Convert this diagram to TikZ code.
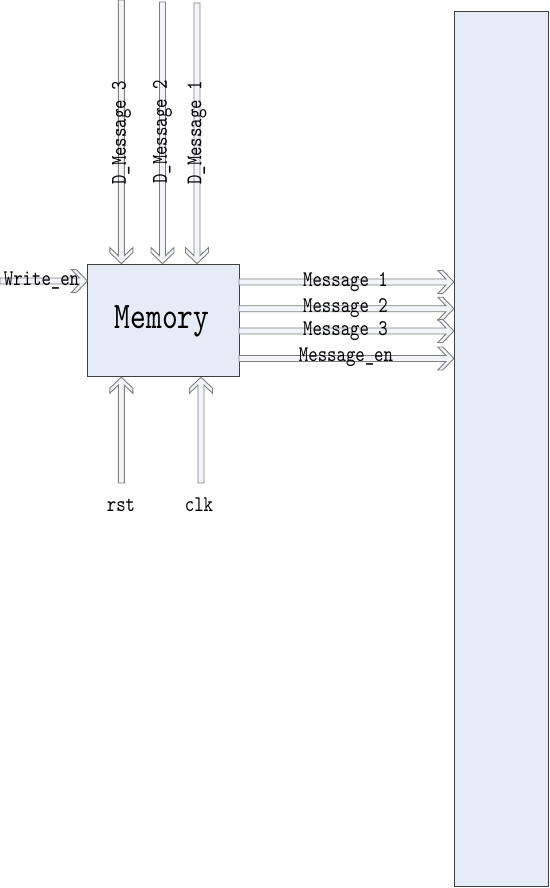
\documentclass[tikz,border=0pt]{standalone}
\usepackage{fontspec}
\usetikzlibrary{calc}
\newfontfamily\lblfont[FakeStretch=0.8]{lmmono10-regular.otf}
\definecolor{boxfill}{HTML}{E6ECF7}
\definecolor{boxline}{HTML}{404040}
\definecolor{arrline}{HTML}{7F7F7F}
\definecolor{arrfill}{HTML}{F2F4FA}
\tikzset{
  blockarrow/.style={draw=arrline, fill=arrfill, line width=0.9pt, line join=miter,
    to path={let \p1=(\tikztostart), \p2=(\tikztotarget),
      \n2={atan2(\y2-\y1,\x2-\x1)} in
      ($(\p1)+(\n2+90:3pt)$) -- ($(\p2)+(\n2:-7.9pt)+(\n2+90:3pt)$)
      -- ($(\p2)+(\n2:-16pt)+(\n2+90:11.5pt)$) -- ($(\p2)+(\n2:-11pt)+(\n2+90:11.5pt)$)
      -- (\p2)
      -- ($(\p2)+(\n2:-11pt)+(\n2-90:11.5pt)$) -- ($(\p2)+(\n2:-16pt)+(\n2-90:11.5pt)$)
      -- ($(\p2)+(\n2:-7.9pt)+(\n2-90:3pt)$) -- ($(\p1)+(\n2-90:3pt)$) -- cycle}},
  panel/.style={draw=boxline, fill=boxfill, line width=0.9pt, inner sep=0pt},
  sig/.style={inner sep=0pt, font=\lblfont\fontsize{22.4}{24}\selectfont},
}
\begin{document}
\begin{tikzpicture}[x=1pt,y=-1pt]
\useasboundingbox (0,0) rectangle (549,888);
% boxes
\node[panel, minimum width=151.5pt, minimum height=112.7pt] (mem) at (163.5,320.4) {};
\node[panel, minimum width=94pt, minimum height=875.7pt] (big) at (501.3,448.9) {};
\node[inner sep=0pt, font=\lblfont\fontsize{37.5}{40}\selectfont] (memtxt) at (162,321) {Memory};
% coordinates
\coordinate (d3) at (121.3,0);
\coordinate (d2) at (162.5,2);
\coordinate (d1) at (197,3);
\coordinate (we) at (0,281);
\coordinate (rs) at (121.3,483);
\coordinate (ck) at (201,483);
\coordinate (m1) at (239,282);
\coordinate (m2) at (239,308.7);
\coordinate (m3) at (239,331);
\coordinate (me) at (239,358.5);
% arrows
\draw[blockarrow] (d3) to (d3 |- mem.north);
\draw[blockarrow] (d2) to (d2 |- mem.north);
\draw[blockarrow] (d1) to (d1 |- mem.north);
\draw[blockarrow] (we) to (mem.west |- we);
\draw[blockarrow] (rs) to (rs |- mem.south);
\draw[blockarrow] (ck) to (ck |- mem.south);
\draw[blockarrow] (m1) to (big.west |- m1);
\draw[blockarrow] (m2) to (big.west |- m2);
\draw[blockarrow] (m3) to (big.west |- m3);
\draw[blockarrow] (me) to (big.west |- me);
% labels
\node[sig, rotate=90] (l3) at (121.5,133) {D\_Message 3};
\node[sig, rotate=90] (l2) at (162.5,132) {D\_Message 2};
\node[sig, rotate=90] (l1) at (197,133) {D\_Message 1};
\node[sig] (lwe) at (41.5,281) {Write\_en};
\node[sig] (lm1) at (345.5,282) {Message 1};
\node[sig] (lm2) at (345.5,308) {Message 2};
\node[sig] (lm3) at (345.5,331) {Message 3};
\node[sig] (lme) at (346,357.5) {Message\_en};
\node[sig] (lrs) at (121,505) {rst};
\node[sig] (lck) at (199,505) {clk};
\end{tikzpicture}
\end{document}
